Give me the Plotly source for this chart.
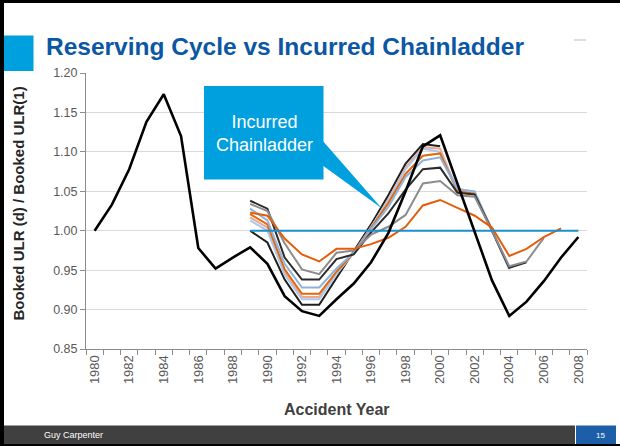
import plotly.graph_objects as go

years = list(range(1980, 2009))
cl_years = list(range(1989, 2009))

reserving_cycle = [1.000, 1.033, 1.078, 1.138, 1.173, 1.120, 0.978, 0.952, 0.966, 0.979,
                   0.958, 0.917, 0.898, 0.892, 0.913, 0.933, 0.960, 0.997, 1.050, 1.107,
                   1.121, 1.060, 1.000, 0.937, 0.892, 0.910, 0.936, 0.966, 0.992]

cl_d2 = [1.023, 1.019, 0.990, 0.970, 0.961, 0.977, 0.977, 0.983, 0.991, 1.005,
         1.032, 1.039, 1.029, 1.019, 1.004, 0.968, 0.977, 0.992, 1.003]
cl_d3 = [1.034, 1.025, 0.984, 0.951, 0.945, 0.972, 0.975, 0.995, 1.005, 1.020,
         1.060, 1.063, 1.045, 1.043, 1.000, 0.955, 0.961, 0.991]
cl_d4 = [1.038, 1.028, 0.966, 0.938, 0.938, 0.964, 0.970, 0.998, 1.022, 1.052,
         1.078, 1.080, 1.048, 1.046, 1.000, 0.953, 0.960]
cl_d5 = [1.028, 1.013, 0.958, 0.928, 0.928, 0.952, 0.972, 1.002, 1.030, 1.068,
         1.089, 1.093, 1.053, 1.050, 1.000, 0.951]
cl_d6 = [1.021, 1.008, 0.951, 0.920, 0.920, 0.948, 0.972, 1.003, 1.035, 1.072,
         1.095, 1.098, 1.050, 1.047, 1.002]
cl_d7 = [1.013, 1.000, 0.944, 0.913, 0.913, 0.945, 0.972, 1.005, 1.038, 1.078,
         1.104, 1.100, 1.053, 1.049]
cl_d8 = [1.017, 1.004, 0.948, 0.916, 0.916, 0.946, 0.972, 1.004, 1.040, 1.080,
         1.106, 1.104, 1.050]
cl_d9 = [1.000, 0.985, 0.938, 0.906, 0.906, 0.940, 0.975, 1.008, 1.045, 1.085,
         1.110, 1.107]
baseline = [1.0] * len(cl_years)

x_ticks = list(range(1980, 2009, 2))

W, H = 620, 446
L, R, T, B = 86, 587, 73, 349


def px(x):
    return (x - L) / (R - L)


def py(y):
    return (B - y) / (B - T)


fig = go.Figure()

series = [
    (cl_d9, "#1e1e1e", 2.0),
    (cl_d8, "#f4a48c", 2.0),
    (cl_d7, "#a9c9ec", 2.0),
    (cl_d6, "#e2680e", 2.0),
    (cl_d5, "#8fb2dc", 2.0),
    (cl_d4, "#2b2b2b", 2.0),
    (cl_d3, "#8c8c8c", 2.0),
    (cl_d2, "#e35d0b", 2.0),
]
for vals, col, w in series:
    fig.add_trace(go.Scatter(x=cl_years[:len(vals)], y=vals, mode="lines",
                             line=dict(color=col, width=w), hoverinfo="skip",
                             showlegend=False))

fig.add_trace(go.Scatter(x=cl_years, y=baseline, mode="lines",
                         line=dict(color="#1a8fcf", width=2), showlegend=False))
fig.add_trace(go.Scatter(x=years, y=reserving_cycle, mode="lines",
                         line=dict(color="#000000", width=2.6), showlegend=False))

shapes = []
# frame
shapes.append(dict(type="rect", xref="paper", yref="paper", x0=px(0), x1=px(620), y0=py(3), y1=py(0),
                   fillcolor="#000000", line=dict(width=0), layer="above"))
shapes.append(dict(type="rect", xref="paper", yref="paper", x0=px(0), x1=px(4), y0=py(446), y1=py(0),
                   fillcolor="#000000", line=dict(width=0), layer="above"))
shapes.append(dict(type="rect", xref="paper", yref="paper", x0=px(0), x1=px(620), y0=py(446), y1=py(444),
                   fillcolor="#000000", line=dict(width=0), layer="above"))
# title square
shapes.append(dict(type="rect", xref="paper", yref="paper", x0=px(4), x1=px(33.5), y0=py(71), y1=py(35.5),
                   fillcolor="#00a0df", line=dict(width=0)))
# small gray line top right
shapes.append(dict(type="line", xref="paper", yref="paper", x0=px(574), x1=px(586), y0=py(40), y1=py(40),
                   line=dict(color="#c0c0c0", width=1)))
# footer
shapes.append(dict(type="rect", xref="paper", yref="paper", x0=px(4), x1=px(575), y0=py(444), y1=py(425.5),
                   fillcolor="#404040", line=dict(width=0)))
shapes.append(dict(type="rect", xref="paper", yref="paper", x0=px(576), x1=px(616), y0=py(444), y1=py(425.5),
                   fillcolor="#1d5ea8", line=dict(width=0)))
# callout
callout_col = "#00a0df"
shapes.append(dict(type="path", xref="paper", yref="paper",
                   path="M {} {} L {} {} L {} {} Z".format(px(322), py(140), px(381.7), py(208.3), px(322), py(165)),
                   fillcolor=callout_col, line=dict(width=0), layer="above"))
shapes.append(dict(type="rect", xref="paper", yref="paper", x0=px(204), x1=px(323.5), y0=py(179.5), y1=py(86),
                   fillcolor=callout_col, line=dict(width=0), layer="above"))

annotations = [
    dict(text="<b>Reserving Cycle vs Incurred Chainladder</b>", xref="paper", yref="paper",
         x=px(44), y=py(46.5), xanchor="left", yanchor="middle", showarrow=False,
         font=dict(family="Liberation Sans, Arial", size=24.5, color="#0b57a4")),
    dict(text="Incurred<br>Chainladder", xref="paper", yref="paper",
         x=px(264), y=py(133), xanchor="center", yanchor="middle", showarrow=False,
         font=dict(family="Liberation Sans, Arial", size=18, color="#ffffff")),
    dict(text="<b>Booked ULR (d) / Booked ULR(1)</b>", xref="paper", yref="paper",
         x=px(17.5), y=py(204), xanchor="center", yanchor="middle", textangle=-90, showarrow=False,
         font=dict(family="Liberation Sans, Arial", size=15, color="#262626")),
    dict(text="<b>Accident Year</b>", xref="paper", yref="paper",
         x=px(336.5), y=py(409), xanchor="center", yanchor="middle", showarrow=False,
         font=dict(family="Liberation Sans, Arial", size=16, color="#404040")),
    dict(text="Guy Carpenter", xref="paper", yref="paper",
         x=px(42), y=py(435), xanchor="left", yanchor="middle", showarrow=False,
         font=dict(family="Liberation Sans, Arial", size=9, color="#ffffff")),
    dict(text="15", xref="paper", yref="paper",
         x=px(600), y=py(435), xanchor="center", yanchor="middle", showarrow=False,
         font=dict(family="Liberation Sans, Arial", size=8, color="#ffffff")),
]

fig.update_layout(
    width=W, height=H,
    margin=dict(l=L, r=W - R, t=T, b=H - B, pad=0),
    paper_bgcolor="#ffffff", plot_bgcolor="#ffffff",
    showlegend=False,
    shapes=shapes,
    annotations=annotations,
    font=dict(family="Liberation Sans, Arial", color="#595959"),
    xaxis=dict(range=[1979.5, 2008.5], tickmode="array", tickvals=x_ticks,
               ticktext=[str(v) for v in x_ticks], tickangle=-90, ticks="",
               tickfont=dict(size=13, color="#595959"),
               showgrid=False, zeroline=False, showline=True, linecolor="#8c8c8c", linewidth=1,
               minor=dict(tick0=1979.5, dtick=1, ticks="outside", ticklen=5, tickcolor="#8c8c8c",
                          showgrid=False)),
    yaxis=dict(range=[0.85, 1.20], tickmode="array",
               tickvals=[0.85, 0.90, 0.95, 1.00, 1.05, 1.10, 1.15, 1.20],
               tickformat=".2f", ticks="outside", ticklen=5, tickcolor="#8c8c8c",
               tickfont=dict(size=12.5, color="#595959"),
               showgrid=True, gridcolor="#d9d9d9", gridwidth=1, zeroline=False,
               showline=True, linecolor="#8c8c8c", linewidth=1),
)

fig.write_html("out.html", config={"displayModeBar": False},
               post_script="document.body.style.margin='0';document.body.style.overflow='hidden';")
